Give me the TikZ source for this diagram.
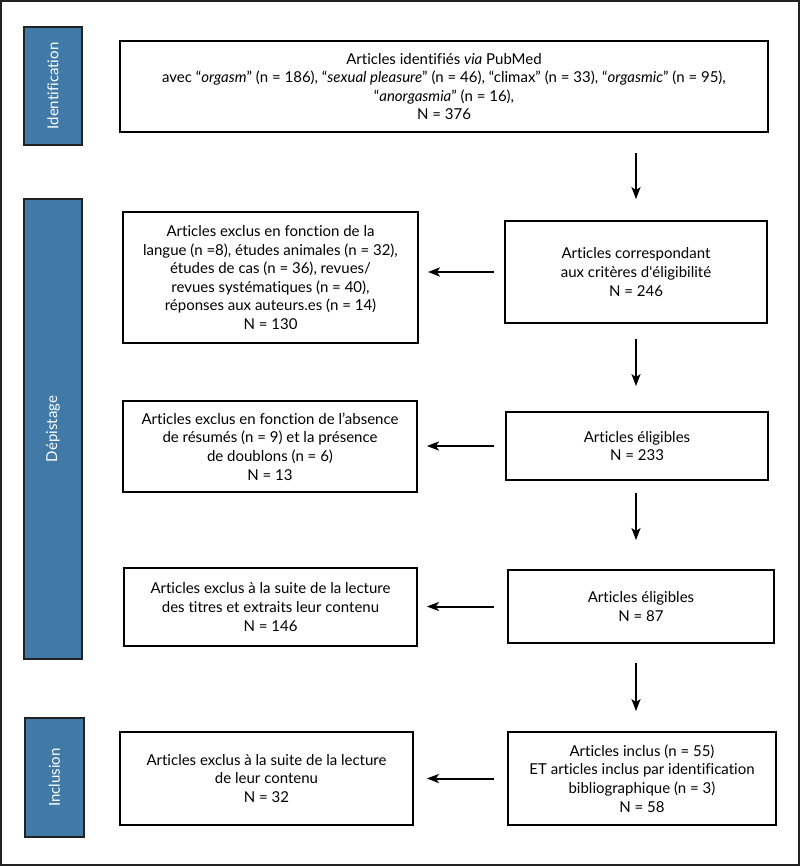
\documentclass[tikz,border=0pt]{standalone}
\usepackage{fontspec}
\setmainfont{Lato}[Ligatures=NoCommon]
\usetikzlibrary{arrows.meta,calc}
\definecolor{barblue}{HTML}{4179A7}
\definecolor{bardark}{HTML}{222222}
\begin{document}
\begin{tikzpicture}[x=1pt,y=-1pt,
  box/.style={draw=black,line width=1.8pt,fill=white,align=center,inner sep=0pt,
    font=\fontsize{15}{18.6}\selectfont},
  bar/.style={draw=bardark,line width=1.8pt,fill=barblue,inner sep=0pt},
  barlabel/.style={text=white,rotate=90,font=\fontsize{15}{18}\selectfont},
  arr/.style={-{Stealth[length=12pt,width=9pt,inset=3pt]},line width=2pt}]
\useasboundingbox (0,0) rectangle (800,866);
\draw[draw=bardark,line width=1.6pt] (0.8,0.8) rectangle (799.2,865.2);

% side bars
\node[bar,minimum width=58pt,minimum height=118pt] (idbar) at (53,86) {};
\node[barlabel] (idlab) at (idbar.center) {Identification};
\node[bar,minimum width=58pt,minimum height=460pt] (depbar) at (53,429) {};
\node[barlabel] (deplab) at (depbar.center) {Dépistage};
\node[bar,minimum width=59pt,minimum height=119pt] (incbar) at (54.5,777.5) {};
\node[barlabel] (inclab) at (incbar.center) {Inclusion};

% boxes
\node[box,minimum width=648pt,minimum height=91pt] (top) at (444,86.5)
 {Articles identifiés \textit{via} PubMed\\
  avec “\textit{orgasm}” (n = 186), “\textit{sexual pleasure}” (n = 46), “climax” (n = 33), “\textit{orgasmic}” (n = 95),\\
  “\textit{anorgasmia}” (n = 16),\\
  N = 376};

\node[box,minimum width=262pt,minimum height=102pt] (c1) at (636,272)
 {Articles correspondant\\aux critères d\textquotesingle éligibilité\\N = 246};
\node[box,minimum width=295pt,minimum height=131pt] (ex1) at (270.5,277.5)
 {Articles exclus en fonction de la\\langue (n =8), études animales (n = 32),\\études de cas (n = 36), revues/\\revues systématiques (n = 40),\\réponses aux auteurs.es (n = 14)\\N = 130};

\node[box,minimum width=262pt,minimum height=68pt] (c2) at (637,446)
 {Articles éligibles\\N = 233};
\node[box,minimum width=294pt,minimum height=91pt] (ex2) at (270,446.5)
 {Articles exclus en fonction de l’absence\\de résumés (n = 9) et la présence\\de doublons (n = 6)\\N = 13};

\node[box,minimum width=266pt,minimum height=73pt] (c3) at (641,606.5)
 {Articles éligibles\\N = 87};
\node[box,minimum width=293pt,minimum height=78pt] (ex3) at (270.5,607)
 {Articles exclus à la suite de la lecture\\des titres et extraits leur contenu\\N = 146};

\node[box,minimum width=268pt,minimum height=93pt] (c4) at (642,778.5)
 {Articles inclus (n = 55)\\ET articles inclus par identification\\bibliographique (n = 3)\\N = 58};
\node[box,minimum width=293pt,minimum height=93pt] (ex4) at (266.5,778.5)
 {Articles exclus à la suite de la lecture\\de leur contenu\\N = 32};

% vertical arrows
\draw[arr,shorten <=20pt,shorten >=21pt] (c1.north |- top.south) -- (c1.north);
\draw[arr,shorten <=15pt,shorten >=25pt] (c1.south) -- (c1.south |- c2.north);
\draw[arr,shorten <=12pt,shorten >=29pt] (c1.south |- c2.south) -- (c1.south |- c3.north);
\draw[arr,shorten <=19pt,shorten >=20pt] (c1.south |- c3.south) -- (c1.south |- c4.north);

% horizontal arrows
\draw[arr,shorten <=10pt,shorten >=9pt] (c1.west) -- (c1.west -| ex1.east);
\draw[arr,shorten <=11pt,shorten >=9pt] (c2.west) -- (c2.west -| ex2.east);
\draw[arr,shorten <=13pt,shorten >=9pt] (c3.west) -- (c3.west -| ex3.east);
\draw[arr,shorten <=13pt,shorten >=13pt] (c4.west) -- (c4.west -| ex4.east);
\end{tikzpicture}
\end{document}
